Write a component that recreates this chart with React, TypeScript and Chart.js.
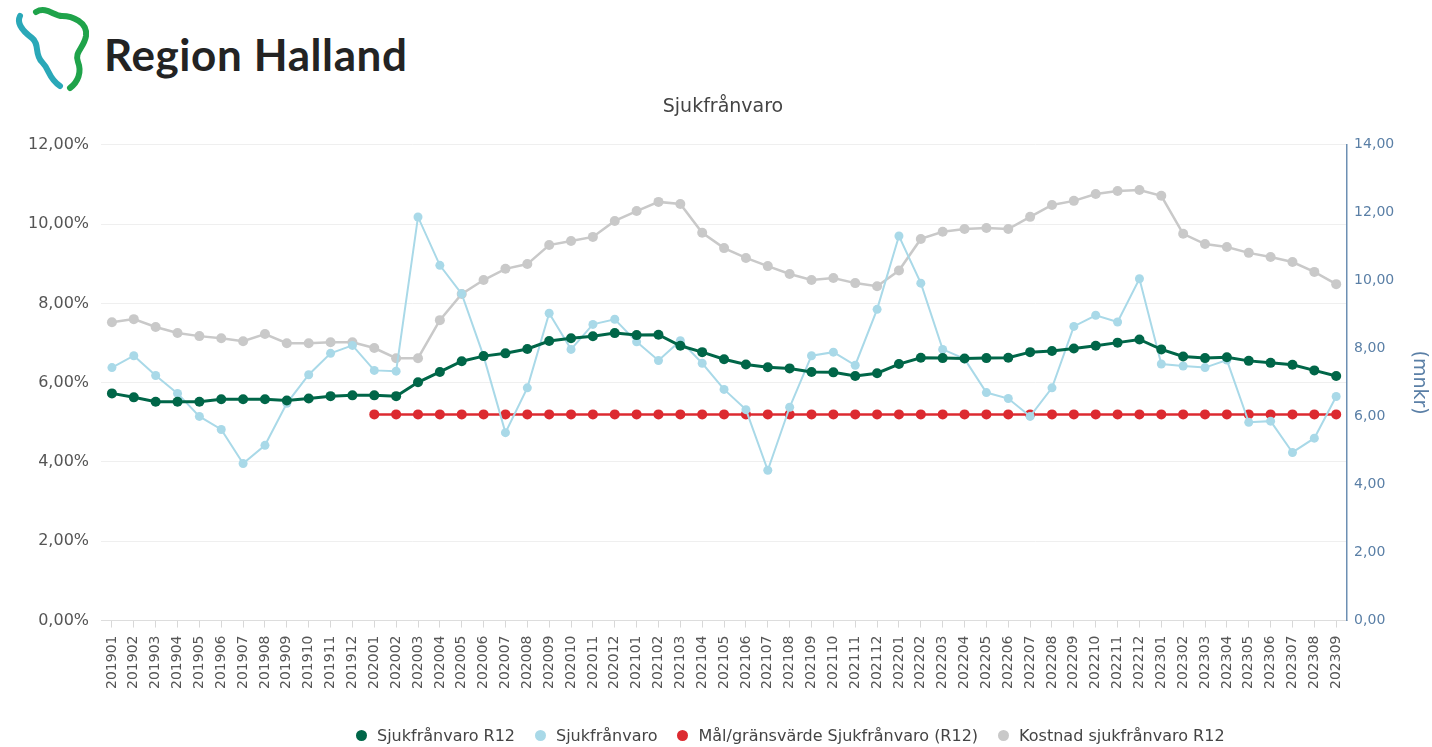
import React, { useEffect, useRef } from "react";
import { Chart, registerables } from "chart.js";

Chart.register(...registerables);

const months: string[] = [
  "201901","201902","201903","201904","201905","201906","201907","201908","201909","201910","201911","201912",
  "202001","202002","202003","202004","202005","202006","202007","202008","202009","202010","202011","202012",
  "202101","202102","202103","202104","202105","202106","202107","202108","202109","202110","202111","202112",
  "202201","202202","202203","202204","202205","202206","202207","202208","202209","202210","202211","202212",
  "202301","202302","202303","202304","202305","202306","202307","202308","202309",
];

const sjukR12: number[] = [
  5.73, 5.63, 5.52, 5.52, 5.52, 5.58, 5.58, 5.58, 5.55, 5.6, 5.66, 5.68,
  5.68, 5.66, 6.01, 6.27, 6.54, 6.67, 6.74, 6.85, 7.05, 7.12, 7.17, 7.25,
  7.2, 7.21, 6.93, 6.77, 6.59, 6.46, 6.39, 6.36, 6.27, 6.26, 6.17, 6.24,
  6.47, 6.63, 6.62, 6.61, 6.62, 6.63, 6.77, 6.8, 6.86, 6.93, 7.01, 7.09,
  6.84, 6.66, 6.62, 6.64, 6.55, 6.5, 6.45, 6.31, 6.17,
];

const sjuk: number[] = [
  6.38, 6.68, 6.18, 5.73, 5.15, 4.82, 3.96, 4.42, 5.48, 6.2, 6.74, 6.94,
  6.31, 6.29, 10.18, 8.96, 8.24, 6.67, 4.74, 5.87, 7.75, 6.84, 7.47, 7.6,
  7.03, 6.56, 7.06, 6.49, 5.83, 5.32, 3.79, 5.38, 6.68, 6.77, 6.44, 7.85,
  9.7, 8.51, 6.84, 6.6, 5.75, 5.6, 5.15, 5.87, 7.42, 7.7, 7.53, 8.62,
  6.47, 6.42, 6.38, 6.57, 5.0, 5.03, 4.24, 4.6, 5.65,
];

const mal: (number | null)[] = [
  null, null, null, null, null, null, null, null, null, null, null, null,
  5.2, 5.2, 5.2, 5.2, 5.2, 5.2, 5.2, 5.2, 5.2, 5.2, 5.2, 5.2,
  5.2, 5.2, 5.2, 5.2, 5.2, 5.2, 5.2, 5.2, 5.2, 5.2, 5.2, 5.2,
  5.2, 5.2, 5.2, 5.2, 5.2, 5.2, 5.2, 5.2, 5.2, 5.2, 5.2, 5.2,
  5.2, 5.2, 5.2, 5.2, 5.2, 5.2, 5.2, 5.2, 5.2,
];

const kostnad: number[] = [
  8.78, 8.87, 8.64, 8.46, 8.37, 8.31, 8.22, 8.43, 8.16, 8.16, 8.19, 8.19,
  8.02, 7.72, 7.72, 8.84, 9.61, 10.02, 10.35, 10.49, 11.05, 11.17, 11.29, 11.76,
  12.05, 12.32, 12.26, 11.41, 10.96, 10.67, 10.43, 10.2, 10.02, 10.08, 9.93, 9.84,
  10.3, 11.23, 11.44, 11.52, 11.55, 11.52, 11.88, 12.23, 12.35, 12.55, 12.64, 12.67,
  12.5, 11.38, 11.08, 10.99, 10.82, 10.7, 10.55, 10.26, 9.9,
];

const seriesNames: string[] = [
  "Sjukfrånvaro R12",
  "Sjukfrånvaro",
  "Mål/gränsvärde Sjukfrånvaro (R12)",
  "Kostnad sjukfrånvaro R12",
];

const seriesColors: string[] = ["#006648", "#a9d9e8", "#dc2a30", "#c9c9c9"];

const FONT = "'DejaVu Sans', Verdana, sans-serif";

function fmt(v: number): string {
  return v.toFixed(2).replace(".", ",");
}

export default function App() {
  const ref = useRef<HTMLCanvasElement | null>(null);

  useEffect(() => {
    if (!ref.current) return;
    const chart = new Chart(ref.current, {
      type: "line",
      data: {
        labels: months,
        datasets: [
          {
            label: seriesNames[0],
            data: sjukR12,
            yAxisID: "y",
            borderColor: seriesColors[0],
            backgroundColor: seriesColors[0],
            borderWidth: 3,
            pointRadius: 5,
            pointBorderWidth: 0,
            tension: 0,
          },
          {
            label: seriesNames[1],
            data: sjuk,
            yAxisID: "y",
            borderColor: seriesColors[1],
            backgroundColor: seriesColors[1],
            borderWidth: 2,
            pointRadius: 4.5,
            pointBorderWidth: 0,
            tension: 0,
          },
          {
            label: seriesNames[2],
            data: mal,
            yAxisID: "y",
            borderColor: seriesColors[2],
            backgroundColor: seriesColors[2],
            borderWidth: 2.5,
            pointRadius: 5,
            pointBorderWidth: 0,
            tension: 0,
            spanGaps: false,
          },
          {
            label: seriesNames[3],
            data: kostnad,
            yAxisID: "y2",
            borderColor: seriesColors[3],
            backgroundColor: seriesColors[3],
            borderWidth: 2.5,
            pointRadius: 5,
            pointBorderWidth: 0,
            tension: 0,
          },
        ],
      },
      options: {
        responsive: false,
        animation: false,
        layout: { padding: { top: 96, left: 16, right: 2, bottom: 0 } },
        plugins: {
          title: {
            display: true,
            text: "Sjukfrånvaro",
            color: "#444",
            font: { family: FONT, size: 19, weight: "normal" },
            padding: { top: 0, bottom: 26 },
          },
          legend: { display: false },
          tooltip: { enabled: false },
        },
        scales: {
          x: {
            offset: true,
            afterFit: (scale: any) => { scale.height += 50; },
            grid: { display: true, drawOnChartArea: false, drawTicks: true, tickLength: 7, color: "#d8d8d8", offset: false },
            border: { display: true, color: "#dddddd" },
            ticks: {
              autoSkip: false,
              minRotation: 90,
              maxRotation: 90,
              padding: 8,
              color: "#555",
              font: { family: FONT, size: 14 },
            },
          },
          y: {
            position: "left",
            min: 0,
            max: 12,
            ticks: {
              stepSize: 2,
              color: "#555",
              padding: 12,
              font: { family: FONT, size: 16 },
              callback: (v: any) => fmt(Number(v)) + "%",
            },
            grid: { color: "#efefef", drawTicks: false },
            border: { display: false },
          },
          y2: {
            position: "right",
            min: 0,
            max: 14,
            ticks: {
              stepSize: 2,
              color: "#5a7fa6",
              padding: 7,
              font: { family: FONT, size: 14 },
              callback: (v: any) => fmt(Number(v)),
            },
            grid: { display: false, drawTicks: false },
            border: { display: true, color: "#6d8fb3", width: 1.5 },
            title: {
              display: true,
              text: "(mnkr)",
              color: "#5a7fa6",
              font: { family: FONT, size: 19 },
              padding: { top: 0, bottom: 6 },
            },
          },
        },
      },
    });
    return () => chart.destroy();
  }, []);

  return (
    <div style={{ position: "fixed", left: 0, top: 0, width: 1432, height: 747, background: "#fff", overflow: "hidden" }}>
      <svg width="100" height="95" style={{ position: "absolute", left: 8, top: 2 }} viewBox="0 0 100 95">
        <path d="M12 14 C 8 22, 16 30, 24 36 C 32 42, 26 52, 34 60 C 42 68, 40 76, 52 84" fill="none" stroke="#2aa8b8" strokeWidth="6" strokeLinecap="round" />
        <path d="M28 10 C 38 4, 46 14, 54 14 C 64 14, 80 20, 78 34 C 76 46, 66 50, 70 60 C 74 70, 70 80, 62 86" fill="none" stroke="#1fa34a" strokeWidth="6" strokeLinecap="round" />
      </svg>
      <div style={{ position: "absolute", left: 104, top: 28, fontFamily: "Lato, 'Open Sans', sans-serif", fontWeight: 700, fontSize: 44, color: "#232323", letterSpacing: 0.6, lineHeight: "52px" }}>
        Region Halland
      </div>
      <canvas ref={ref} width={1432} height={747} style={{ position: "absolute", left: 0, top: 0 }} />
      <div style={{ position: "absolute", left: 356, top: 725, height: 20, display: "flex", alignItems: "center", fontFamily: FONT, fontSize: 16, color: "#444", whiteSpace: "nowrap" }}>
        {seriesNames.map((name, i) => (
          <div key={name} style={{ display: "flex", alignItems: "center", marginRight: 20 }}>
            <span style={{ display: "inline-block", width: 11, height: 11, borderRadius: "50%", background: seriesColors[i], marginRight: 10 }} />
            <span>{name}</span>
          </div>
        ))}
      </div>
    </div>
  );
}
